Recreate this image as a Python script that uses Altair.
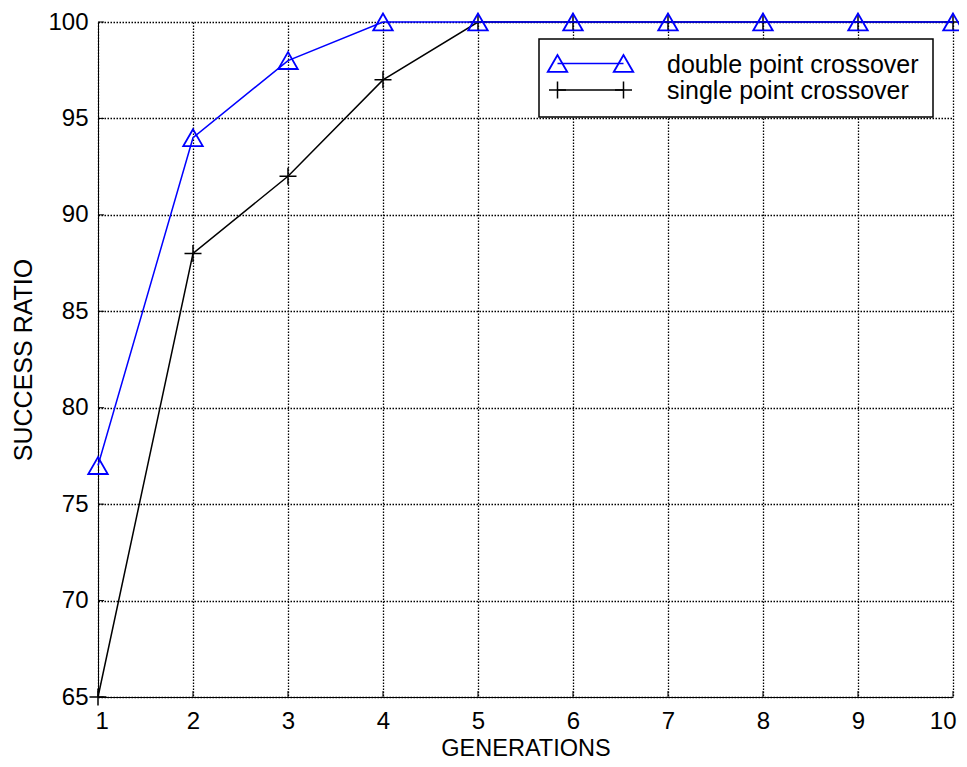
import altair as alt
import pandas as pd

generations = [1, 2, 3, 4, 5, 6, 7, 8, 9, 10]
double_point = [77, 94, 98, 100, 100, 100, 100, 100, 100, 100]
single_point = [65, 88, 92, 97, 100, 100, 100, 100, 100, 100]
x_ticks = [1, 2, 3, 4, 5, 6, 7, 8, 9, 10]
y_ticks = [65, 70, 75, 80, 85, 90, 95, 100]
series_names = ["double point crossover", "single point crossover"]

FONT = "Liberation Sans"
FS = 24
FT = 25
W, H = 855, 675
BLUE = "#0000FF"
PLUS = "M-1,0L1,0M0,-1L0,1"

df_d = pd.DataFrame({"g": generations, "v": double_point})
df_s = pd.DataFrame({"g": generations, "v": single_point})

xs = alt.Scale(domain=[1, 10], nice=False, zero=False)
ys = alt.Scale(domain=[65, 100], nice=False, zero=False)

xaxis = alt.Axis(values=x_ticks, format="d", title="GENERATIONS", grid=True, ticks=False,
                 labelPadding=31, labelBaseline="alphabetic", labelFlush=True,
                 labelFlushOffset=3, labelOverlap=False, titleY=58, titleFontSize=23.5,
                 titleBaseline="alphabetic")
yaxis = alt.Axis(values=y_ticks, format="d", title="SUCCESS RATIO", grid=True, ticks=False,
                 labelPadding=10, labelOverlap=False, labelFlush=False,
                 titleX=-75, titleY=H / 2, titleAngle=-90, titleAlign="center",
                 titleBaseline="middle")

base_s = alt.Chart(df_s).encode(x=alt.X("g:Q", scale=xs, axis=xaxis),
                                y=alt.Y("v:Q", scale=ys, axis=yaxis))
line_s = base_s.mark_line(color="black", strokeWidth=1.5, clip=False)
pts_s = base_s.mark_point(shape=PLUS, size=289, color="black", strokeWidth=1.5,
                          filled=False, opacity=1, clip=False)

base_d = alt.Chart(df_d).encode(x=alt.X("g:Q", scale=xs), y=alt.Y("v:Q", scale=ys))
line_d = base_d.mark_line(color=BLUE, strokeWidth=1.5, clip=False)
pts_d = base_d.mark_point(shape="triangle-up", size=380, color=BLUE, strokeWidth=1.8,
                          filled=False, opacity=1, clip=False)

# inward ticks
yt = alt.Chart(pd.DataFrame({"t": y_ticks})).mark_rule(color="black", strokeWidth=1).encode(
    y=alt.Y("t:Q", scale=ys), x=alt.value(0), x2=alt.value(6))
xt = alt.Chart(pd.DataFrame({"t": x_ticks})).mark_rule(color="black", strokeWidth=1).encode(
    x=alt.X("t:Q", scale=xs), y=alt.value(H), y2=alt.value(H - 6))

# legend
one = pd.DataFrame({"k": [0]})
leg_box = alt.Chart(one).mark_rect(fill="white", stroke="black", strokeWidth=1.5).encode(
    x=alt.value(441), x2=alt.value(835), y=alt.value(17), y2=alt.value(95))
leg_line1 = alt.Chart(one).mark_rule(color=BLUE, strokeWidth=1.5).encode(
    x=alt.value(459.5), x2=alt.value(525.5), y=alt.value(41.5))
leg_line2 = alt.Chart(one).mark_rule(color="black", strokeWidth=1.5).encode(
    x=alt.value(459.5), x2=alt.value(525.5), y=alt.value(68))
leg_tri_a = alt.Chart(one).mark_point(shape="triangle-up", size=380, color=BLUE, strokeWidth=1.8,
                                      filled=False, opacity=1).encode(x=alt.value(459.5), y=alt.value(41.5))
leg_tri_b = alt.Chart(one).mark_point(shape="triangle-up", size=380, color=BLUE, strokeWidth=1.8,
                                      filled=False, opacity=1).encode(x=alt.value(525.5), y=alt.value(41.5))
leg_pl_a = alt.Chart(one).mark_point(shape=PLUS, size=289, color="black", strokeWidth=1.5,
                                     filled=False, opacity=1).encode(x=alt.value(459.5), y=alt.value(68))
leg_pl_b = alt.Chart(one).mark_point(shape=PLUS, size=289, color="black", strokeWidth=1.5,
                                     filled=False, opacity=1).encode(x=alt.value(525.5), y=alt.value(68))
leg_t1 = alt.Chart(pd.DataFrame({"s": [series_names[0]]})).mark_text(
    font=FONT, fontSize=FT, align="left", baseline="alphabetic", color="black").encode(
    x=alt.value(569), y=alt.value(51.3), text="s:N")
leg_t2 = alt.Chart(pd.DataFrame({"s": [series_names[1]]})).mark_text(
    font=FONT, fontSize=FT, align="left", baseline="alphabetic", color="black").encode(
    x=alt.value(569), y=alt.value(76.5), text="s:N")

chart = alt.layer(
    line_s, pts_s, line_d, pts_d, yt, xt,
    leg_box, leg_line1, leg_line2, leg_tri_a, leg_tri_b, leg_pl_a, leg_pl_b, leg_t1, leg_t2
).properties(
    width=W, height=H,
    autosize=alt.AutoSizeParams(type="none"),
    padding={"left": 90, "top": 14, "right": 6, "bottom": 62},
).configure_view(stroke=None).configure_axis(
    labelFont=FONT, labelFontSize=FS, labelColor="black",
    titleFont=FONT, titleFontSize=FT, titleColor="black", titleFontWeight="normal",
    domainColor="black", domainWidth=1,
    gridColor="black", gridDash=[1.5, 1.5], gridWidth=1.3, gridOpacity=1,
)

chart.save("out.html", embed_options={"renderer": "svg", "actions": False})
